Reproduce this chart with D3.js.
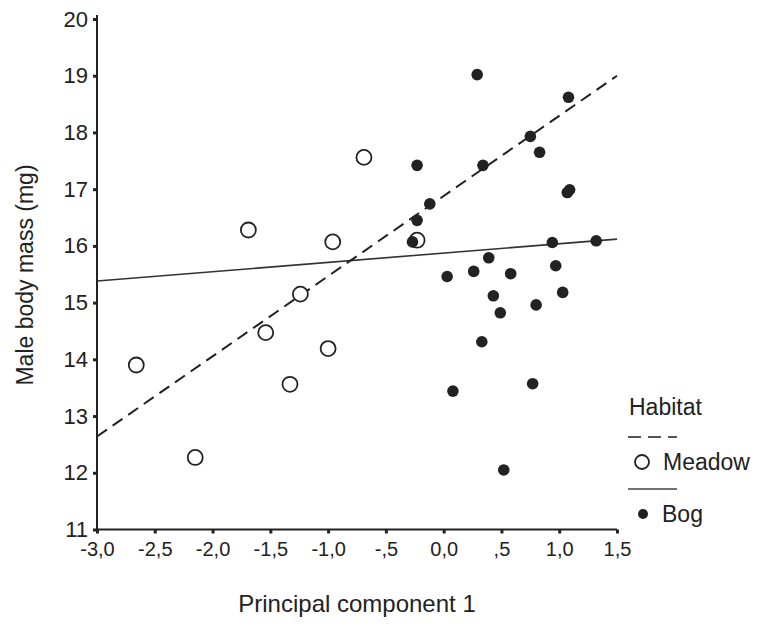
<!DOCTYPE html>
<html>
<head>
<meta charset="utf-8">
<script src="https://cdn.jsdelivr.net/npm/d3@7"></script>
<style>
  body { margin: 0; background: #fff; }
  svg { display: block; font-family: "Liberation Sans", Arial, sans-serif; }
</style>
</head>
<body>
<div id="chart"></div>
<script>
// Meadow points [PC1, body mass]
const meadowX = [-2.66, -2.15, -1.69, -1.54, -1.33, -1.24, -1.00, -0.96, -0.69, -0.23];
const meadowY = [13.90, 12.27, 16.28, 14.47, 13.56, 15.15, 14.19, 16.07, 17.56, 16.10];

// Bog points
const bogX = [-0.27, -0.23, -0.23, -0.12, 0.03, 0.08, 0.26, 0.29, 0.33, 0.34, 0.39, 0.43, 0.49,
              0.52, 0.58, 0.75, 0.77, 0.80, 0.83, 0.94, 0.97, 1.03, 1.07, 1.09, 1.08, 1.32];
const bogY = [16.07, 16.45, 17.42, 16.74, 15.46, 13.44, 15.55, 19.02, 14.31, 17.42, 15.79, 15.12, 14.82,
              12.05, 15.51, 17.93, 13.57, 14.96, 17.65, 16.06, 15.65, 15.18, 16.94, 16.99, 18.62, 16.09];

// fit lines, end points at x = -3 and x = 1.5
const lineX = [-3.0, 1.5];
const meadowFit = [12.64, 19.0];
const bogFit = [15.38, 16.12];

const xTicks = [-3.0, -2.5, -2.0, -1.5, -1.0, -0.5, 0.0, 0.5, 1.0, 1.5];
const xTickLabels = ["-3,0", "-2,5", "-2,0", "-1,5", "-1,0", "-,5", "0,0", ",5", "1,0", "1,5"];
const yTicks = [11, 12, 13, 14, 15, 16, 17, 18, 19, 20];

const width = 763, height = 625;

const svg = d3.select("#chart").append("svg")
  .attr("width", width)
  .attr("height", height);

const x = d3.scaleLinear().domain([-3, 1.5]).range([97, 617]);
const y = d3.scaleLinear().domain([11, 20]).range([529.5, 19]);

const ink = "#222";

// y axis
const yAxis = svg.append("g")
  .attr("transform", "translate(97,0)")
  .call(d3.axisLeft(y).tickValues(yTicks).tickSize(4).tickPadding(5).tickFormat(d3.format("d")));
yAxis.select(".domain").attr("stroke", ink).attr("stroke-width", 2).attr("d", `M0,${y(20) - 4}V${y(11)}`);
yAxis.selectAll(".tick line").attr("stroke", ink).attr("stroke-width", 3);
yAxis.selectAll(".tick text")
  .attr("fill", ink)
  .attr("font-size", 22)
  .attr("font-family", "Liberation Sans, Arial, sans-serif");

// x axis
const xAxis = svg.append("g")
  .attr("transform", `translate(0,${y(11)})`)
  .call(d3.axisBottom(x).tickValues(xTicks).tickSize(4).tickPadding(8)
    .tickFormat((d, i) => xTickLabels[i]));
xAxis.select(".domain").attr("stroke", ink).attr("stroke-width", 2).attr("d", `M${x(-3)},0H${x(1.5)}`);
xAxis.selectAll(".tick line").attr("stroke", ink).attr("stroke-width", 3);
xAxis.selectAll(".tick text")
  .attr("fill", ink)
  .attr("font-size", 20)
  .attr("font-family", "Liberation Sans, Arial, sans-serif");

// axis titles
svg.append("text")
  .attr("transform", "translate(33,275) rotate(-90)")
  .attr("text-anchor", "middle")
  .attr("font-size", 23)
  .attr("fill", ink)
  .text("Male body mass (mg)");

svg.append("text")
  .attr("x", 357)
  .attr("y", 612)
  .attr("text-anchor", "middle")
  .attr("font-size", 24)
  .attr("fill", ink)
  .text("Principal component 1");

// fit lines
const fitLine = d3.line()
  .x(d => x(d[0]))
  .y(d => y(d[1]));

svg.append("path")
  .datum(lineX.map((v, i) => [v, bogFit[i]]))
  .attr("d", fitLine)
  .attr("fill", "none")
  .attr("stroke", "#333")
  .attr("stroke-width", 1.6);

svg.append("path")
  .datum(lineX.map((v, i) => [v, meadowFit[i]]))
  .attr("d", fitLine)
  .attr("fill", "none")
  .attr("stroke", ink)
  .attr("stroke-width", 2)
  .attr("stroke-dasharray", "12,7");

// meadow = open circles
svg.append("g")
  .selectAll("circle")
  .data(meadowX.map((v, i) => [v, meadowY[i]]))
  .enter()
  .append("circle")
  .attr("cx", d => x(d[0]))
  .attr("cy", d => y(d[1]))
  .attr("r", 7.5)
  .attr("fill", "#fff")
  .attr("stroke", ink)
  .attr("stroke-width", 1.8);

// bog = filled dots
svg.append("g")
  .selectAll("circle")
  .data(bogX.map((v, i) => [v, bogY[i]]))
  .enter()
  .append("circle")
  .attr("cx", d => x(d[0]))
  .attr("cy", d => y(d[1]))
  .attr("r", 5.8)
  .attr("fill", ink);

// legend
const legend = svg.append("g").attr("font-size", 23).attr("fill", ink);

legend.append("text").attr("x", 629).attr("y", 415).text("Habitat");

legend.append("line")
  .attr("x1", 628).attr("x2", 677).attr("y1", 437).attr("y2", 437)
  .attr("stroke", "#555").attr("stroke-width", 1.8).attr("stroke-dasharray", "13,7");
legend.append("circle")
  .attr("cx", 642).attr("cy", 462).attr("r", 7)
  .attr("fill", "#fff").attr("stroke", ink).attr("stroke-width", 1.8);
legend.append("text").attr("x", 663).attr("y", 470).text("Meadow");

legend.append("line")
  .attr("x1", 628).attr("x2", 677).attr("y1", 489).attr("y2", 489)
  .attr("stroke", "#444").attr("stroke-width", 1.6);
legend.append("circle")
  .attr("cx", 643).attr("cy", 514).attr("r", 5)
  .attr("fill", ink);
legend.append("text").attr("x", 662).attr("y", 522).text("Bog");
</script>
</body>
</html>
